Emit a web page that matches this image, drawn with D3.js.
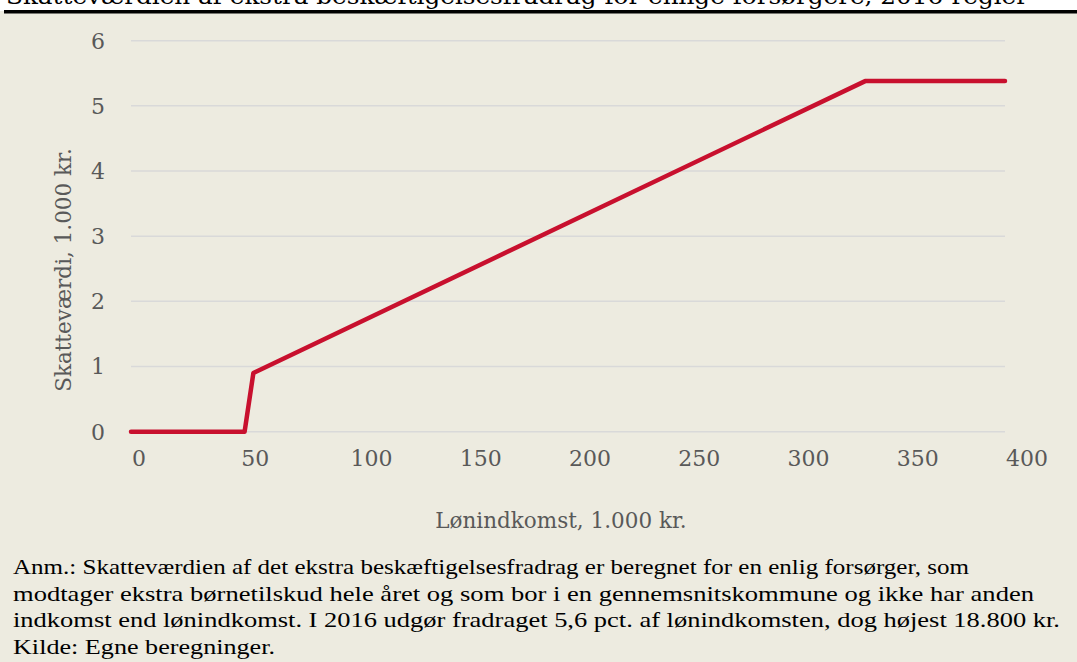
<!DOCTYPE html>
<html>
<head>
<meta charset="utf-8">
<script src="https://cdn.jsdelivr.net/npm/d3@7"></script>
<style>
  html, body { margin: 0; padding: 0; background: #fff; }
  svg { display: block; }
</style>
</head>
<body>
<svg id="chart" width="1077" height="662"></svg>
<script>
// ---- data ----
const income = [0, 52, 56, 336, 400];          // lønindkomst, 1.000 kr.
const taxValue = [0, 0, 0.9, 5.38, 5.38];      // skatteværdi, 1.000 kr.
const xTicks = [0, 50, 100, 150, 200, 250, 300, 350, 400];
const yTicks = [0, 1, 2, 3, 4, 5, 6];
const titleText = "Skatteværdien af ekstra beskæftigelsesfradrag for enlige forsørgere, 2016-regler";
const xLabel = "Lønindkomst, 1.000 kr.";
const yLabel = "Skatteværdi, 1.000 kr.";
const notes = [
  "Anm.: Skatteværdien af det ekstra beskæftigelsesfradrag er beregnet for en enlig forsørger, som",
  "modtager ekstra børnetilskud hele året og som bor i en gennemsnitskommune og ikke har anden",
  "indkomst end lønindkomst. I 2016 udgør fradraget 5,6 pct. af lønindkomsten, dog højest 18.800 kr.",
  "Kilde: Egne beregninger."
];
const noteWidths = [956, 1021, 1047, 262];

const svg = d3.select("#chart");
const W = 1077, H = 662;
const serif = "'DejaVu Serif', serif";

// backgrounds
svg.append("rect").attr("x", 0).attr("y", 0).attr("width", W).attr("height", H).attr("fill", "#EDEBE0");
svg.append("rect").attr("x", 0).attr("y", 0).attr("width", W).attr("height", 11).attr("fill", "#FFFFFF");

// title (cut off at top, as in the original)
svg.append("text")
  .attr("x", 6).attr("y", 4)
  .attr("font-family", serif).attr("font-size", 22)
  .attr("fill", "#000")
  .attr("textLength", 1022).attr("lengthAdjust", "spacingAndGlyphs")
  .text(titleText);
svg.append("rect").attr("x", 4).attr("y", 10).attr("width", W - 4).attr("height", 3.5).attr("fill", "#000");

// scales
const x = d3.scaleLinear().domain([0, 400]).range([131, 1005]);
const y = d3.scaleLinear().domain([0, 6]).range([431.7, 40.7]);

// gridlines
svg.append("g").selectAll("line").data(yTicks).join("line")
  .attr("x1", x(0)).attr("x2", x(400))
  .attr("y1", d => y(d)).attr("y2", d => y(d))
  .attr("stroke", "#D9D9D9").attr("stroke-width", 1.5);

// y tick labels
svg.append("g").selectAll("text").data(yTicks).join("text")
  .attr("x", 105).attr("y", d => y(d))
  .attr("dy", "0.36em")
  .attr("text-anchor", "end")
  .attr("font-family", serif).attr("font-size", 22)
  .attr("fill", "#595959")
  .text(d => d);

// x tick labels (left-aligned at tick position)
svg.append("g").selectAll("text").data(xTicks).join("text")
  .attr("x", d => x(d) + 1).attr("y", 466)
  .attr("text-anchor", "start")
  .attr("font-family", serif).attr("font-size", 22)
  .attr("fill", "#595959")
  .text(d => d);

// axis titles
svg.append("text")
  .attr("x", 561).attr("y", 528)
  .attr("text-anchor", "middle")
  .attr("font-family", serif).attr("font-size", 21.5)
  .attr("fill", "#595959")
  .text(xLabel);
svg.append("text")
  .attr("transform", `translate(71,270) rotate(-90)`)
  .attr("text-anchor", "middle")
  .attr("font-family", serif).attr("font-size", 21.5)
  .attr("fill", "#595959")
  .text(yLabel);

// line
const pts = income.map((v, i) => [v, taxValue[i]]);
const line = d3.line().x(d => x(d[0])).y(d => y(d[1]));
svg.append("path")
  .datum(pts)
  .attr("d", line)
  .attr("fill", "none")
  .attr("stroke", "#C8102E")
  .attr("stroke-width", 4.5)
  .attr("stroke-linejoin", "round")
  .attr("stroke-linecap", "round");

// notes
svg.append("g").selectAll("text").data(notes).join("text")
  .attr("x", 13).attr("y", (d, i) => 574 + i * 26.7)
  .attr("font-family", "'Liberation Serif', 'DejaVu Serif', serif").attr("font-size", 22)
  .attr("fill", "#000")
  .attr("textLength", (d, i) => noteWidths[i])
  .attr("lengthAdjust", "spacingAndGlyphs")
  .text(d => d);
</script>
</body>
</html>
